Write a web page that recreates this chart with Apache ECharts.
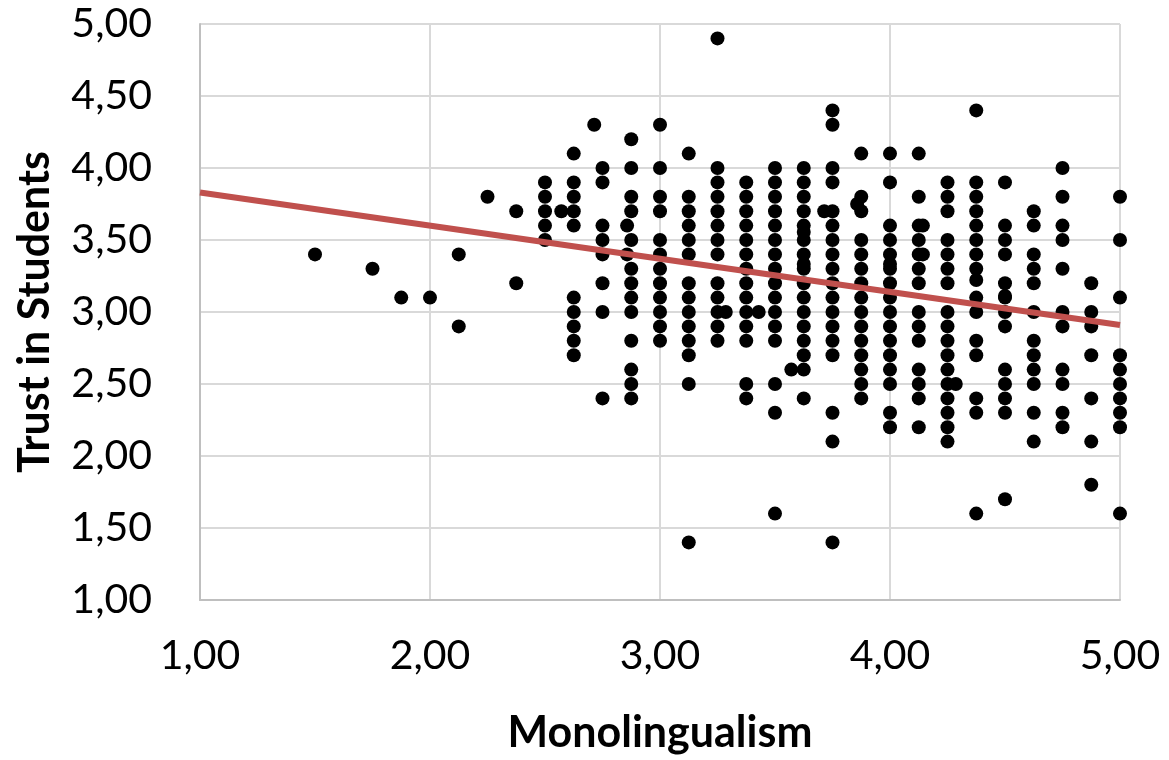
<!DOCTYPE html>
<html>
<head>
<meta charset="utf-8">
<script src="https://cdn.jsdelivr.net/npm/echarts@6/dist/echarts.min.js"></script>
<style>html,body{margin:0;padding:0;background:#fff}#c{width:1169px;height:760px}</style>
</head>
<body>
<div id="c"></div>
<script>
// Monolingualism levels (x) and the Trust in Students scores (y) observed at each level
const monolingualismLevels = [1.5, 1.75, 1.875, 2.0, 2.125, 2.25, 2.375, 2.5, 2.571, 2.625, 2.714, 2.75, 2.857, 2.875, 3.0, 3.125, 3.25, 3.286, 3.375, 3.429, 3.5, 3.571, 3.625, 3.714, 3.75, 3.857, 3.875, 4.0, 4.125, 4.143, 4.25, 4.286, 4.375, 4.5, 4.625, 4.75, 4.875, 5.0];
const trustAtLevel = [
  [3.4],
  [3.3],
  [3.1],
  [3.1],
  [3.4, 2.9],
  [3.8],
  [3.7, 3.2],
  [3.9, 3.8, 3.7, 3.6, 3.5],
  [3.7],
  [4.1, 3.9, 3.8, 3.7, 3.6, 3.1, 3.0, 2.9, 2.8, 2.7],
  [4.3],
  [4.0, 3.9, 3.6, 3.5, 3.4, 3.2, 3.0, 2.4],
  [3.6, 3.4],
  [4.2, 4.0, 3.8, 3.7, 3.5, 3.3, 3.2, 3.1, 3.0, 2.8, 2.6, 2.5, 2.4],
  [4.3, 4.0, 3.8, 3.7, 3.5, 3.4, 3.3, 3.2, 3.1, 3.0, 2.9, 2.8],
  [4.1, 3.8, 3.7, 3.6, 3.5, 3.4, 3.2, 3.1, 3.0, 2.9, 2.8, 2.7, 2.5, 1.4],
  [4.9, 4.0, 3.9, 3.8, 3.7, 3.6, 3.5, 3.4, 3.2, 3.1, 3.0, 2.9, 2.8],
  [3.0],
  [3.9, 3.8, 3.7, 3.6, 3.5, 3.4, 3.3, 3.2, 3.1, 3.0, 2.9, 2.8, 2.5, 2.4],
  [3.0],
  [4.0, 3.9, 3.8, 3.7, 3.6, 3.5, 3.4, 3.3, 3.2, 3.1, 3.0, 2.9, 2.8, 2.5, 2.3, 1.6],
  [2.6],
  [4.0, 3.9, 3.8, 3.7, 3.6, 3.556, 3.5, 3.4, 3.333, 3.3, 3.2, 3.1, 3.0, 2.9, 2.8, 2.7, 2.6, 2.4],
  [3.7],
  [4.4, 4.3, 4.0, 3.9, 3.7, 3.6, 3.5, 3.4, 3.3, 3.2, 3.1, 3.0, 2.9, 2.8, 2.7, 2.3, 2.1, 1.4],
  [3.75],
  [4.1, 3.8, 3.7, 3.5, 3.4, 3.3, 3.2, 3.1, 3.0, 2.9, 2.8, 2.7, 2.6, 2.5, 2.4],
  [4.1, 3.9, 3.6, 3.5, 3.4, 3.333, 3.3, 3.2, 3.1, 3.0, 2.9, 2.8, 2.7, 2.6, 2.5, 2.3, 2.2],
  [4.1, 3.8, 3.6, 3.5, 3.4, 3.3, 3.2, 3.0, 2.9, 2.8, 2.6, 2.5, 2.4, 2.2],
  [3.6, 3.4],
  [3.9, 3.8, 3.7, 3.5, 3.4, 3.3, 3.2, 3.0, 2.9, 2.8, 2.7, 2.6, 2.5, 2.4, 2.3, 2.2, 2.1],
  [2.5],
  [4.4, 3.9, 3.8, 3.7, 3.6, 3.5, 3.4, 3.3, 3.222, 3.1, 3.0, 2.8, 2.7, 2.4, 2.3, 1.6],
  [3.9, 3.6, 3.5, 3.4, 3.2, 3.111, 3.1, 3.0, 2.9, 2.6, 2.5, 2.4, 2.3, 1.7],
  [3.7, 3.6, 3.4, 3.3, 3.2, 3.0, 2.8, 2.7, 2.6, 2.5, 2.3, 2.1],
  [4.0, 3.8, 3.6, 3.5, 3.3, 3.0, 2.9, 2.6, 2.5, 2.3, 2.2],
  [3.2, 3.0, 2.9, 2.7, 2.4, 2.1, 1.8],
  [3.8, 3.5, 3.1, 2.7, 2.6, 2.5, 2.4, 2.3, 2.2, 1.6]
];
// Linear trend line end points
const trendX = [1.0, 5.0];
const trendY = [3.83, 2.91];
const xTitle = 'Monolingualism';
const yTitle = 'Trust in Students';

const points = [];
monolingualismLevels.forEach((x, i) => trustAtLevel[i].forEach(y => points.push([x, y])));
const trend = trendX.map((x, i) => [x, trendY[i]]);

const fmt = v => v.toFixed(2).replace('.', ',');
const FONT = 'Lato';
const chart = echarts.init(document.getElementById('c'), null, {renderer: 'canvas'});
chart.setOption({
  animation: false,
  backgroundColor: '#ffffff',
  grid: {left: 200, right: 49, top: 24, bottom: 152, containLabel: false},
  xAxis: {
    type: 'value', min: 1, max: 5, interval: 1,
    name: xTitle, nameLocation: 'middle', nameGap: 112,
    nameTextStyle: {fontFamily: FONT, fontWeight: 'bold', fontSize: 43, color: '#000'},
    axisLine: {show: true, lineStyle: {color: '#bfbfbf', width: 2}},
    axisTick: {show: false},
    axisLabel: {formatter: fmt, fontFamily: FONT, fontSize: 41, color: '#000', margin: 35},
    splitLine: {show: true, lineStyle: {color: '#d9d9d9', width: 2}}
  },
  yAxis: {
    type: 'value', min: 1, max: 5, interval: 0.5,
    name: yTitle, nameLocation: 'middle', nameGap: 143,
    nameTextStyle: {fontFamily: FONT, fontWeight: 'bold', fontSize: 43, color: '#000'},
    axisLine: {show: true, lineStyle: {color: '#bfbfbf', width: 2}},
    axisTick: {show: false},
    axisLabel: {formatter: fmt, fontFamily: FONT, fontSize: 41, color: '#000', margin: 48},
    splitLine: {show: true, lineStyle: {color: '#d9d9d9', width: 2}}
  },
  series: [
    {type: 'scatter', data: points, symbol: 'circle', symbolSize: 14,
     itemStyle: {color: '#000000', opacity: 1}, z: 2},
    {type: 'line', data: trend, showSymbol: false, symbol: 'none',
     lineStyle: {color: '#C0504D', width: 6}, z: 3}
  ]
});
</script>
</body>
</html>
